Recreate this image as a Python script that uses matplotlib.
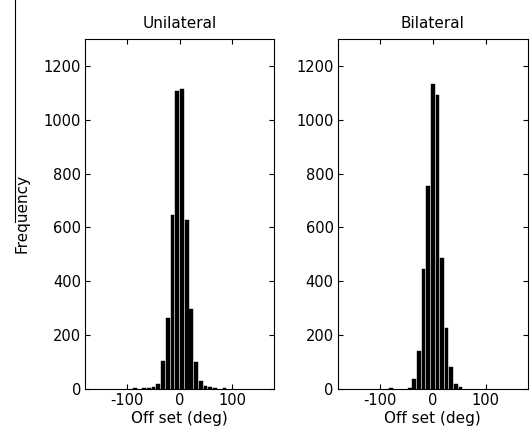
import numpy as np
import matplotlib
matplotlib.use("Agg")
import matplotlib.pyplot as plt
from matplotlib.lines import Line2D

plt.rcParams['font.family'] = ['DejaVu Sans']
plt.rcParams['axes.unicode_minus'] = False

# histogram counts
uni_width = 9.0
uni_centers = [-85.5, -67.5, -58.5, -49.5, -40.5, -31.5, -22.5, -13.5, -4.5,
               4.5, 13.5, 22.5, 31.5, 40.5, 49.5, 58.5, 67.5, 85.5]
uni_counts = [3, 2, 5, 9, 20, 105, 265, 645, 1105,
              1113, 627, 298, 101, 28, 10, 7, 5, 5]

bi_width = 8.75
bi_centers = [-78.75, -43.75, -35.0, -26.25, -17.5, -8.75, 0.0,
              8.75, 17.5, 26.25, 35.0, 43.75, 52.5]
bi_counts = [4, 5, 38, 140, 445, 752, 1134,
             1091, 485, 225, 82, 17, 7]

titles = ["Unilateral", "Bilateral"]
xticks = [-100, 0, 100]
yticks = [0, 200, 400, 600, 800, 1000, 1200]

fig = plt.figure(figsize=(5.32, 4.37), dpi=100)
ax1 = fig.add_axes([0.160, 0.110, 0.355, 0.801])
ax2 = fig.add_axes([0.635, 0.110, 0.357, 0.801])

data = [(uni_centers, uni_counts, uni_width), (bi_centers, bi_counts, bi_width)]
for ax, (c, h, w), title in zip([ax1, ax2], data, titles):
    ax.bar(c, h, width=0.8 * w, color='k', edgecolor='k', linewidth=0.3)
    ax.set_xlim(-180, 180)
    ax.set_ylim(0, 1300)
    ax.set_xticks(xticks)
    ax.set_yticks(yticks)
    ax.tick_params(direction='in', top=True, right=True, length=3.5,
                   width=0.8, labelsize=10.5, pad=3)
    for s in ax.spines.values():
        s.set_linewidth(0.8)
    ax.set_title(title, fontsize=11, pad=8)
    ax.set_xlabel("Off set (deg)", fontsize=11, labelpad=2)

ax1.set_ylabel("Frequency", fontsize=11, labelpad=10)

# thin stray line at the left edge of the original figure
fig.add_artist(Line2D([15 / 532, 15 / 532], [1.0, 1 - 222 / 437],
                      transform=fig.transFigure, color='k', linewidth=0.8))

fig.savefig("out.png", dpi=100)
